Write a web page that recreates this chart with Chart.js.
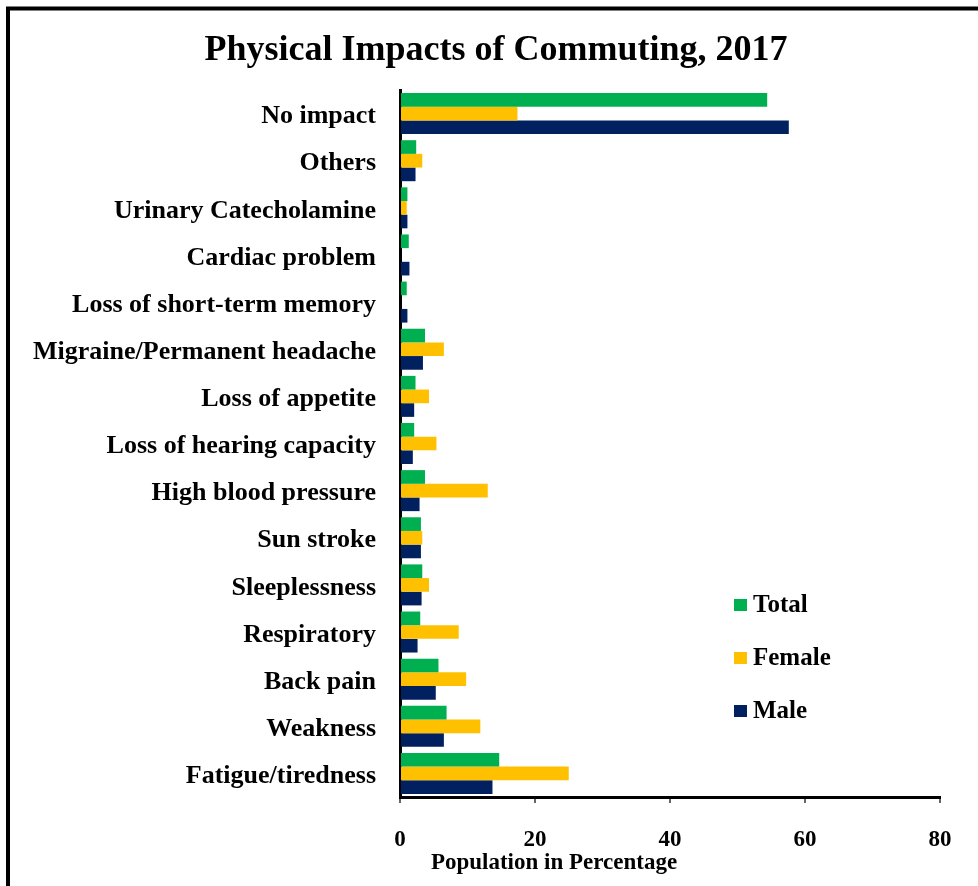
<!DOCTYPE html>
<html>
<head>
<meta charset="utf-8">
<title>Physical Impacts of Commuting, 2017</title>
<script src="https://cdn.jsdelivr.net/npm/chart.js@4.4.1/dist/chart.umd.min.js"></script>
<style>
  html, body { margin: 0; padding: 0; background: #fff; }
  #wrap { width: 978px; height: 886px; position: relative; }
</style>
</head>
<body>
<div id="wrap"><canvas id="chart" width="978" height="886"></canvas></div>
<script>
const categories = [
    'No impact', 'Others', 'Urinary Catecholamine', 'Cardiac problem',
    'Loss of short-term memory', 'Migraine/Permanent headache', 'Loss of appetite',
    'Loss of hearing capacity', 'High blood pressure', 'Sun stroke', 'Sleeplessness',
    'Respiratory', 'Back pain', 'Weakness', 'Fatigue/tiredness'
];
const totalValues  = [54.4, 2.4, 1.1, 1.3, 1.0, 3.7, 2.3, 2.1, 3.7, 3.1, 3.3, 3.0, 5.7, 6.9, 14.7];
const femaleValues = [17.4, 3.3, 1.0, 0,   0,   6.5, 4.3, 5.4, 13.0, 3.3, 4.3, 8.7, 9.8, 11.9, 25.0];
const maleValues   = [57.6, 2.3, 1.1, 1.4, 1.1, 3.4, 2.1, 1.9, 2.9, 3.1, 3.2, 2.6, 5.3, 6.5, 13.7];
const xTicks = [0, 20, 40, 60, 80];
const chartTitle = 'Physical Impacts of Commuting, 2017';

const serif = '"Liberation Serif", "Times New Roman", serif';

// outer frame of the picture + title (title is centred on the frame, not the plot)
const framePlugin = {
    id: 'frame',
    beforeDraw(chart) {
        const ctx = chart.ctx;
        ctx.save();
        ctx.strokeStyle = '#000';
        ctx.lineWidth = 4;
        ctx.strokeRect(8, 8.5, 1200, 1200);
        ctx.font = 'bold 36px ' + serif;
        ctx.fillStyle = '#000';
        ctx.textAlign = 'center';
        ctx.textBaseline = 'middle';
        ctx.fillText(chartTitle, 496, 51);
        ctx.restore();
    }
};

// legend sits inside the plot area, bottom right
const innerLegend = {
    id: 'innerLegend',
    afterDraw(chart) {
        const ctx = chart.ctx;
        const area = chart.chartArea;
        ctx.save();
        ctx.font = 'bold 25px ' + serif;
        ctx.textBaseline = 'middle';
        ctx.textAlign = 'left';
        chart.data.datasets.forEach((ds, i) => {
            const y = area.top + 514 + i * 53;
            const x = area.left + 334;
            ctx.fillStyle = ds.backgroundColor;
            ctx.fillRect(x, y - 5, 13, 12);
            ctx.fillStyle = '#000';
            ctx.fillText(ds.label, x + 19, y + 2);
        });
        ctx.restore();
    }
};

// axis title, placed a bit left of centre like the original
const xTitle = {
    id: 'xTitle',
    afterDraw(chart) {
        const ctx = chart.ctx;
        const area = chart.chartArea;
        ctx.save();
        ctx.font = 'bold 23px ' + serif;
        ctx.fillStyle = '#000';
        ctx.textAlign = 'center';
        ctx.textBaseline = 'middle';
        ctx.fillText('Population in Percentage', area.left + 154, area.bottom + 66);
        ctx.restore();
    }
};

new Chart(document.getElementById('chart'), {
    type: 'bar',
    data: {
        labels: categories,
        datasets: [
            { label: 'Total', data: totalValues, backgroundColor: '#00B050' },
            { label: 'Female', data: femaleValues, backgroundColor: '#FFC000' },
            { label: 'Male', data: maleValues, backgroundColor: '#002060' }
        ]
    },
    options: {
        indexAxis: 'y',
        responsive: false,
        animation: false,
        layout: { padding: { left: 0, right: 38, top: 90, bottom: 0 } },
        datasets: { bar: { categoryPercentage: 0.87, barPercentage: 1 } },
        plugins: {
            legend: { display: false },
            tooltip: { enabled: false },
            title: { display: false }
        },
        scales: {
            x: {
                min: 0,
                max: 80,
                afterFit(scale) { scale.height = 89; },
                afterBuildTicks(scale) { scale.ticks = xTicks.map(v => ({ value: v })); },
                grid: { drawOnChartArea: false, drawTicks: true, tickLength: 6, color: '#666', lineWidth: 2 },
                border: { color: '#000', width: 3 },
                ticks: {
                    color: '#000',
                    padding: 23,
                    maxRotation: 0,
                    font: { family: serif, size: 23, weight: 'bold' }
                }
            },
            y: {
                afterFit(scale) { scale.width = 400; },
                grid: { drawOnChartArea: false, drawTicks: false },
                border: { color: '#000', width: 3 },
                ticks: {
                    color: '#000',
                    padding: 24,
                    labelOffset: 3,
                    autoSkip: false,
                    font: { family: serif, size: 26, weight: 'bold' }
                }
            }
        }
    },
    plugins: [framePlugin, innerLegend, xTitle]
});
</script>
</body>
</html>
